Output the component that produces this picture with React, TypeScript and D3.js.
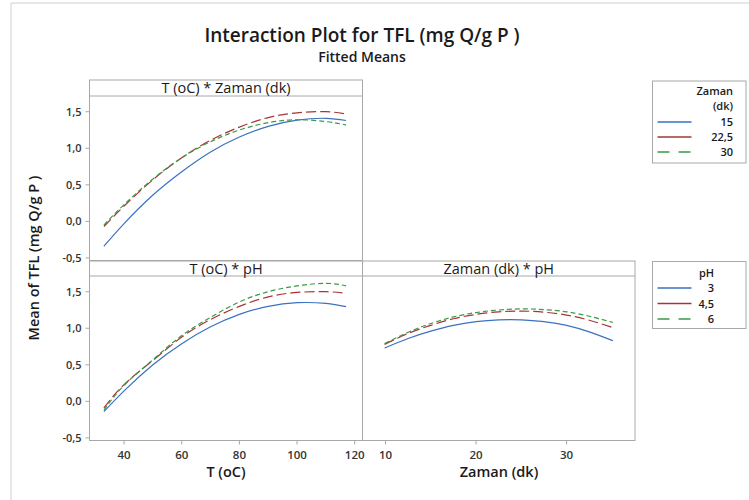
import React from "react";
import * as d3 from "d3";

// ---------- data ----------
const T_VALUES = [33, 40, 50, 60, 70, 80, 90, 100, 110, 117];
const ZAMAN_VALUES = [9.9, 12.5, 15, 17.5, 20, 22.5, 25, 27.5, 30, 32.5, 35.1];

// Panel "T (oC) * Zaman (dk)"
const T_ZAMAN_15 = [-0.34, -0.03, 0.36, 0.68, 0.95, 1.155, 1.3, 1.385, 1.41, 1.38];
const T_ZAMAN_22_5 = [-0.07, 0.21, 0.57, 0.87, 1.11, 1.29, 1.42, 1.485, 1.5, 1.47];
const T_ZAMAN_30 = [-0.05, 0.23, 0.58, 0.87, 1.09, 1.25, 1.35, 1.39, 1.365, 1.32];

// Panel "T (oC) * pH"
const T_PH_3 = [-0.14, 0.144, 0.5, 0.79, 1.02, 1.19, 1.3, 1.35, 1.34, 1.295];
const T_PH_4_5 = [-0.09, 0.23, 0.56, 0.88, 1.12, 1.3, 1.43, 1.49, 1.5, 1.48];
const T_PH_6 = [-0.12, 0.22, 0.57, 0.9, 1.15, 1.36, 1.5, 1.58, 1.615, 1.58];

// Panel "Zaman (dk) * pH"
const Z_PH_3 = [0.73, 0.86, 0.96, 1.04, 1.09, 1.115, 1.115, 1.09, 1.04, 0.95, 0.83];
const Z_PH_4_5 = [0.78, 0.93, 1.04, 1.13, 1.19, 1.225, 1.235, 1.22, 1.18, 1.11, 1.01];
const Z_PH_6 = [0.79, 0.945, 1.065, 1.155, 1.215, 1.25, 1.265, 1.255, 1.225, 1.165, 1.08];

const Y_TICKS = [-0.5, 0, 0.5, 1.0, 1.5];
const T_TICKS = [40, 60, 80, 100, 120];
const Z_TICKS = [10, 20, 30];

const ZAMAN_LEVELS = ["15", "22,5", "30"];
const PH_LEVELS = ["3", "4,5", "6"];

// ---------- styles ----------
const FONT = "'Open Sans', 'Noto Sans', sans-serif";
const BLUE = "#3a72c2";
const RED = "#a83434";
const GREEN = "#3a9a46";
const GRID = "#a8a8a8";
const TEXT = "#1a1a1a";
const COLORS = [BLUE, RED, GREEN];
const DASHES = [undefined, "10,4", "5,3"];
const LEGEND_DASHES = [undefined, undefined, "12,9"];

const fmt = (v: number) => {
  const s = Math.abs(v).toFixed(1).replace(".", ",");
  return v < 0 ? "-" + s : s;
};

const yDomain: [number, number] = [-0.535, 1.715];
const xT = d3.scaleLinear().domain([28, 122.7]).range([89.5, 362.5]);
const xZ = d3.scaleLinear().domain([7.46, 37.55]).range([362.5, 635]);
const yTop = d3.scaleLinear().domain(yDomain).range([260.5, 96]);
const yBot = d3.scaleLinear().domain(yDomain).range([440.5, 276]);

type PanelProps = {
  x0: number;
  x1: number;
  stripTop: number;
  stripBottom: number;
  bottom: number;
  label: string;
};

const Panel = ({ x0, x1, stripTop, stripBottom, bottom, label }: PanelProps) => (
  <g>
    <rect x={x0} y={stripTop} width={x1 - x0} height={bottom - stripTop} fill="none" stroke={GRID} strokeWidth={1} />
    <line x1={x0} x2={x1} y1={stripBottom} y2={stripBottom} stroke={GRID} strokeWidth={1} />
    <text
      x={(x0 + x1) / 2}
      y={stripTop + 13}
      textAnchor="middle"
      fontFamily={FONT}
      fontSize={14.5}
      fill={TEXT}
    >
      {label}
    </text>
  </g>
);

const Series = ({
  xs,
  ys,
  xScale,
  yScale,
  i,
}: {
  xs: number[];
  ys: number[];
  xScale: d3.ScaleLinear<number, number>;
  yScale: d3.ScaleLinear<number, number>;
  i: number;
}) => {
  const line = d3
    .line<number>()
    .x((_, k) => xScale(xs[k]))
    .y((v) => yScale(v))
    .curve(d3.curveNatural);
  return (
    <path
      d={line(ys) || ""}
      fill="none"
      stroke={COLORS[i]}
      strokeWidth={1.2}
      strokeDasharray={DASHES[i]}
    />
  );
};

const YAxis = ({ x, yScale }: { x: number; yScale: d3.ScaleLinear<number, number> }) => (
  <g>
    {Y_TICKS.map((t) => (
      <g key={t}>
        <line x1={x - 4} x2={x} y1={yScale(t)} y2={yScale(t)} stroke={GRID} />
        <text
          x={x - 8}
          y={yScale(t) + 4}
          textAnchor="end"
          fontFamily={FONT}
          fontSize={11}
          fontWeight={600}
          fill="#333"
        >
          {fmt(t)}
        </text>
      </g>
    ))}
  </g>
);

const XAxis = ({
  y,
  ticks,
  xScale,
}: {
  y: number;
  ticks: number[];
  xScale: d3.ScaleLinear<number, number>;
}) => (
  <g>
    {ticks.map((t) => (
      <g key={t}>
        <line x1={xScale(t)} x2={xScale(t)} y1={y} y2={y + 4} stroke={GRID} />
        <text
          x={xScale(t)}
          y={y + 18}
          textAnchor="middle"
          fontFamily={FONT}
          fontSize={11.5}
          fontWeight={600}
          fill="#333"
        >
          {t}
        </text>
      </g>
    ))}
  </g>
);

const Legend = ({
  x0,
  y0,
  x1,
  y1,
  titleLines,
  items,
  textRight,
  rowYs,
  titleYs,
}: {
  x0: number;
  y0: number;
  x1: number;
  y1: number;
  titleLines: string[];
  items: string[];
  textRight: number;
  rowYs: number[];
  titleYs: number[];
}) => (
  <g>
    <rect x={x0} y={y0} width={x1 - x0} height={y1 - y0} fill="white" stroke={GRID} />
    {titleLines.map((t, k) => (
      <text
        key={t}
        x={textRight}
        y={titleYs[k]}
        textAnchor="end"
        fontFamily={FONT}
        fontSize={11}
        fontWeight={600}
        fill={TEXT}
      >
        {t}
      </text>
    ))}
    {items.map((t, k) => (
      <g key={t}>
        <line
          x1={x0 + 5}
          x2={x0 + 39}
          y1={rowYs[k]}
          y2={rowYs[k]}
          stroke={COLORS[k]}
          strokeWidth={1.3}
          strokeDasharray={LEGEND_DASHES[k]}
        />
        <text
          x={textRight}
          y={rowYs[k] + 4}
          textAnchor="end"
          fontFamily={FONT}
          fontSize={11}
          fontWeight={600}
          fill={TEXT}
        >
          {t}
        </text>
      </g>
    ))}
  </g>
);

export default function App() {
  const tZaman = [T_ZAMAN_15, T_ZAMAN_22_5, T_ZAMAN_30];
  const tPh = [T_PH_3, T_PH_4_5, T_PH_6];
  const zPh = [Z_PH_3, Z_PH_4_5, Z_PH_6];
  return (
    <svg
      width={749}
      height={500}
      style={{ position: "absolute", left: 0, top: 0, background: "white" }}
    >
      <rect x={0} y={0} width={749} height={500} fill="white" />
      {/* outer frame */}
      <line x1={11} x2={11} y1={3} y2={500} stroke="#cfcfcf" />
      <line x1={11} x2={749} y1={3} y2={3} stroke="#cfcfcf" />

      {/* titles */}
      <text x={362} y={42} textAnchor="middle" fontFamily={FONT} fontSize={19} fontWeight={600} fill={TEXT}>
        Interaction Plot for TFL (mg Q/g P )
      </text>
      <text x={362} y={62} textAnchor="middle" fontFamily={FONT} fontSize={14} fontWeight={600} fill={TEXT}>
        Fitted Means
      </text>

      {/* panels */}
      <Panel x0={89.5} x1={362.5} stripTop={80} stripBottom={96} bottom={260.5} label="T (oC) * Zaman (dk)" />
      <Panel x0={89.5} x1={362.5} stripTop={261} stripBottom={276} bottom={440.5} label="T (oC) * pH" />
      <Panel x0={362.5} x1={635} stripTop={261} stripBottom={276} bottom={440.5} label="Zaman (dk) * pH" />

      <YAxis x={89.5} yScale={yTop} />
      <YAxis x={89.5} yScale={yBot} />
      <XAxis y={440.5} ticks={T_TICKS} xScale={xT} />
      <XAxis y={440.5} ticks={Z_TICKS} xScale={xZ} />

      {tZaman.map((ys, i) => (
        <Series key={"a" + i} xs={T_VALUES} ys={ys} xScale={xT} yScale={yTop} i={i} />
      ))}
      {tPh.map((ys, i) => (
        <Series key={"b" + i} xs={T_VALUES} ys={ys} xScale={xT} yScale={yBot} i={i} />
      ))}
      {zPh.map((ys, i) => (
        <Series key={"c" + i} xs={ZAMAN_VALUES} ys={ys} xScale={xZ} yScale={yBot} i={i} />
      ))}

      {/* axis titles */}
      <text x={226} y={477} textAnchor="middle" fontFamily={FONT} fontSize={14.5} fontWeight={600} fill={TEXT}>
        T (oC)
      </text>
      <text x={499} y={477} textAnchor="middle" fontFamily={FONT} fontSize={14.5} fontWeight={600} fill={TEXT}>
        Zaman (dk)
      </text>
      <text
        transform="translate(39,258) rotate(-90)"
        textAnchor="middle"
        fontFamily={FONT}
        fontSize={14.5}
        fontWeight={600}
        fill={TEXT}
      >
        Mean of TFL (mg Q/g P )
      </text>

      {/* legends */}
      <Legend
        x0={652.5}
        y0={81}
        x1={746}
        y1={163}
        titleLines={["Zaman", "(dk)"]}
        titleYs={[94.5, 109.5]}
        items={ZAMAN_LEVELS}
        rowYs={[122, 137, 152]}
        textRight={733}
      />
      <Legend
        x0={652.5}
        y0={261.5}
        x1={746}
        y1={328.5}
        titleLines={["pH"]}
        titleYs={[276.5]}
        items={PH_LEVELS}
        rowYs={[288, 303.5, 319]}
        textRight={714}
      />
    </svg>
  );
}
